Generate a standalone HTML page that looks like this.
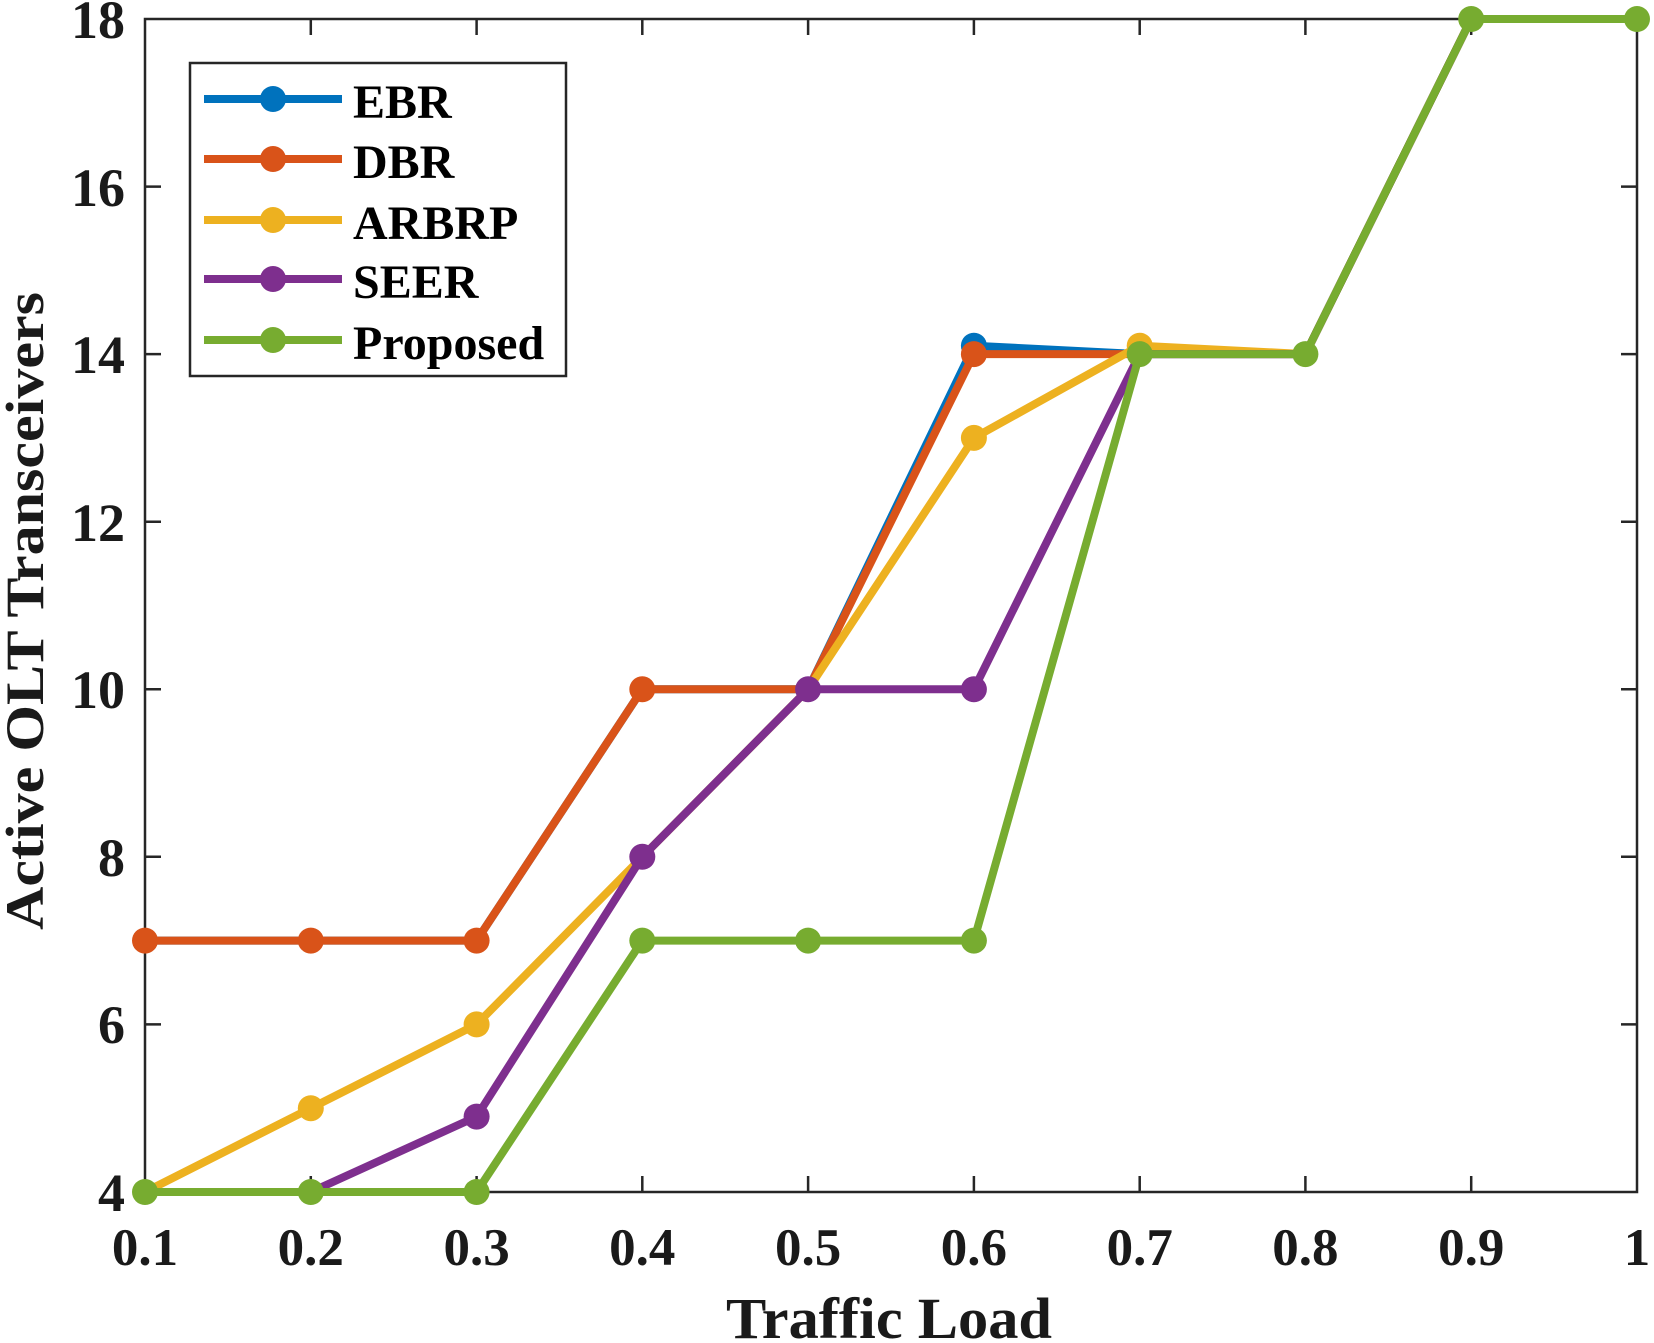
<!DOCTYPE html>
<html><head><meta charset="utf-8"><style>html,body{margin:0;padding:0;background:#fff}svg{display:block}</style></head>
<body>
<svg width="1654" height="1343" viewBox="0 0 1654 1343" xmlns="http://www.w3.org/2000/svg" font-family="Liberation Serif, serif" font-weight="bold">
<rect width="1654" height="1343" fill="#fff"/>
<g stroke="#262626" stroke-width="2.5" fill="none">
<rect x="145" y="19" width="1492" height="1173"/>
<path d="M310.8,1192v-16M476.6,1192v-16M642.3,1192v-16M808.1,1192v-16M973.9,1192v-16M1139.7,1192v-16M1305.4,1192v-16M1471.2,1192v-16
M310.8,19v16M476.6,19v16M642.3,19v16M808.1,19v16M973.9,19v16M1139.7,19v16M1305.4,19v16M1471.2,19v16
M145,1024.4h16M145,856.8h16M145,689.3h16M145,521.7h16M145,354.1h16M145,186.6h16
M1637,1024.4h-16M1637,856.8h-16M1637,689.3h-16M1637,521.7h-16M1637,354.1h-16M1637,186.6h-16"/>
</g>
<g fill="#1a1a1a" font-size="54" text-anchor="end">
<text x="125" y="1211">4</text><text x="125" y="1043">6</text><text x="125" y="876">8</text><text x="125" y="708">10</text><text x="125" y="541">12</text><text x="125" y="373">14</text><text x="125" y="206">16</text><text x="125" y="38">18</text>
</g>
<g fill="#1a1a1a" font-size="53" text-anchor="middle">
<text x="145" y="1265">0.1</text><text x="310.8" y="1265">0.2</text><text x="476.6" y="1265">0.3</text><text x="642.3" y="1265">0.4</text><text x="808.1" y="1265">0.5</text><text x="973.9" y="1265">0.6</text><text x="1139.7" y="1265">0.7</text><text x="1305.4" y="1265">0.8</text><text x="1471.2" y="1265">0.9</text><text x="1637" y="1265">1</text>
</g>
<text x="889" y="1338" font-size="58" text-anchor="middle" fill="#1a1a1a" textLength="326" lengthAdjust="spacingAndGlyphs">Traffic Load</text>
<text transform="translate(43,611) rotate(-90)" font-size="54" text-anchor="middle" fill="#1a1a1a" textLength="638" lengthAdjust="spacingAndGlyphs">Active OLT Transceivers</text>
<g fill="none" stroke-width="8" stroke-linejoin="round">
<polyline stroke="#0072BD" points="145,940.6 310.8,940.6 476.6,940.6 642.3,689.3 808.1,689.3 973.9,345.7 1139.7,354.1 1305.4,354.1 1471.2,19 1637,19"/>
<polyline stroke="#D95319" points="145,940.6 310.8,940.6 476.6,940.6 642.3,689.3 808.1,689.3 973.9,354.1 1139.7,354.1 1305.4,354.1 1471.2,19 1637,19"/>
<polyline stroke="#EDB120" points="145,1192 310.8,1108.2 476.6,1024.4 642.3,856.8 808.1,689.3 973.9,437.9 1139.7,345.7 1305.4,354.1 1471.2,19 1637,19"/>
<polyline stroke="#7E2F8E" points="145,1192 310.8,1192 476.6,1116.6 642.3,856.8 808.1,689.3 973.9,689.3 1139.7,354.1 1305.4,354.1 1471.2,19 1637,19"/>
<polyline stroke="#77AC30" points="145,1192 310.8,1192 476.6,1192 642.3,940.6 808.1,940.6 973.9,940.6 1139.7,354.1 1305.4,354.1 1471.2,19 1637,19"/>
</g>
<g fill="#0072BD"><circle cx="973.9" cy="345.7" r="13"/></g>
<g fill="#D95319"><circle cx="145" cy="940.6" r="13"/><circle cx="310.8" cy="940.6" r="13"/><circle cx="476.6" cy="940.6" r="13"/><circle cx="642.3" cy="689.3" r="13"/><circle cx="973.9" cy="354.1" r="13"/></g>
<g fill="#EDB120"><circle cx="310.8" cy="1108.2" r="13"/><circle cx="476.6" cy="1024.4" r="13"/><circle cx="973.9" cy="437.9" r="13"/><circle cx="1139.7" cy="345.7" r="13"/></g>
<g fill="#7E2F8E"><circle cx="476.6" cy="1116.6" r="13"/><circle cx="642.3" cy="856.8" r="13"/><circle cx="808.1" cy="689.3" r="13"/><circle cx="973.9" cy="689.3" r="13"/></g>
<g fill="#77AC30"><circle cx="145" cy="1192" r="13"/><circle cx="310.8" cy="1192" r="13"/><circle cx="476.6" cy="1192" r="13"/><circle cx="642.3" cy="940.6" r="13"/><circle cx="808.1" cy="940.6" r="13"/><circle cx="973.9" cy="940.6" r="13"/><circle cx="1139.7" cy="354.1" r="13"/><circle cx="1305.4" cy="354.1" r="13"/><circle cx="1471.2" cy="19" r="13"/><circle cx="1637" cy="19" r="13"/></g>
<rect x="190" y="63" width="376" height="313" fill="#fff" stroke="#262626" stroke-width="2.5"/>
<g stroke-width="8">
<line x1="204" y1="99" x2="342" y2="99" stroke="#0072BD"/>
<line x1="204" y1="159" x2="342" y2="159" stroke="#D95319"/>
<line x1="204" y1="220" x2="342" y2="220" stroke="#EDB120"/>
<line x1="204" y1="279" x2="342" y2="279" stroke="#7E2F8E"/>
<line x1="204" y1="340" x2="342" y2="340" stroke="#77AC30"/>
</g>
<circle cx="273" cy="99" r="13" fill="#0072BD"/><circle cx="273" cy="159" r="13" fill="#D95319"/><circle cx="273" cy="220" r="13" fill="#EDB120"/><circle cx="273" cy="279" r="13" fill="#7E2F8E"/><circle cx="273" cy="340" r="13" fill="#77AC30"/>
<g font-size="48" fill="#000">
<text x="353" y="118">EBR</text><text x="353" y="178">DBR</text><text x="353" y="239">ARBRP</text><text x="353" y="298">SEER</text><text x="353" y="359">Proposed</text>
</g>
</svg>
</body></html>
